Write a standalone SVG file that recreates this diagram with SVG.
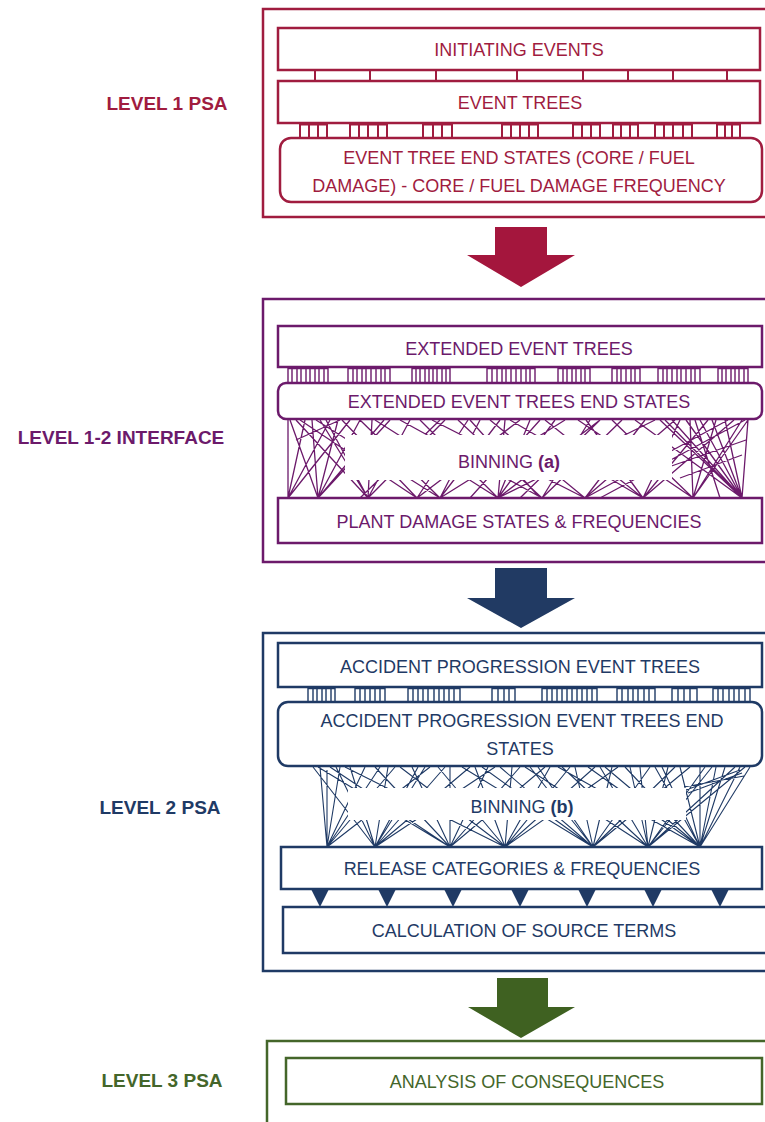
<svg xmlns="http://www.w3.org/2000/svg" width="765" height="1122" viewBox="0 0 765 1122">
<style>
text{font-family:"Liberation Sans",Arial,sans-serif;font-size:18px;text-anchor:middle}
.lbl{font-weight:bold;font-size:19px}
.r{fill:#A01C3F}.p{fill:#6C1A6B}.n{fill:#1F3A65}.g{fill:#44662A}
.box{fill:#fff;stroke-width:2.5}
.outer{fill:none;stroke-width:2.5}
.sr{stroke:#A01C3F}.sp{stroke:#6C1A6B}.sn{stroke:#1F3A65}.sg{stroke:#44662A}
.tk{fill:none;stroke-width:2}
.tk2{fill:none;stroke-width:1.4}
.bin{stroke-width:1.3;fill:none}
.bin2{stroke-width:1.1;fill:none}
</style>
<rect width="765" height="1122" fill="#fff"/>

<!-- Level labels -->
<g id="label-level1"><text class="lbl r" x="167" y="110">LEVEL 1 PSA</text></g>
<g id="label-level12"><text class="lbl p" x="121" y="444">LEVEL 1-2 INTERFACE</text></g>
<g id="label-level2"><text class="lbl n" x="160" y="814">LEVEL 2 PSA</text></g>
<g id="label-level3"><text class="lbl g" x="162" y="1087">LEVEL 3 PSA</text></g>

<!-- Outer frames -->
<g id="frame-level1"><rect class="outer sr" x="263" y="9" width="510" height="208"/></g>
<g id="frame-level12"><rect class="outer sp" x="263" y="299" width="510" height="263"/></g>
<g id="frame-level2"><rect class="outer sn" x="263" y="633" width="510" height="338"/></g>
<g id="frame-level3"><rect class="outer sg" x="267" y="1041" width="510" height="100"/></g>

<!-- Connectors -->
<g id="connectors">
  <!-- Level 1 ticks -->
  <path class="tk sr" d="M315 70V81M370 70V81M436 70V81M517 70V81M583 70V81M628 70V81M673 70V81M727 70V81"/>
  <path class="tk sr" d="M300 124.5H327M300 123V138M309 123V138M318 123V138M327 123V138
  M350 124.5H387M350 123V138M359 123V138M368 123V138M378 123V138M387 123V138
  M423 124.5H452M423 123V138M433 123V138M442 123V138M452 123V138
  M502 124.5H538M502 123V138M511 123V138M520 123V138M529 123V138M538 123V138
  M573 124.5H600M573 123V138M582 123V138M591 123V138M600 123V138
  M613 124.5H638M613 123V138M621 123V138M630 123V138M638 123V138
  M655 124.5H692M655 123V138M664 123V138M673 123V138M683 123V138M692 123V138
  M717 124.5H740M717 123V138M725 123V138M732 123V138M740 123V138"/>

  <!-- Level 1-2 ticks -->
  <path class="tk2 sp" d="M288 368.5H328M348 368.5H390M412 368.5H450M487 368.5H535M558 368.5H590M612 368.5H640M658 368.5H700M718 368.5H748
  M288 367V383M292 367V383M297 367V383M301 367V383M306 367V383M310 367V383M315 367V383M319 367V383M324 367V383M328 367V383
  M348 367V383M353 367V383M357 367V383M362 367V383M366 367V383M371 367V383M376 367V383M381 367V383M385 367V383M390 367V383
  M412 367V383M416 367V383M420 367V383M425 367V383M429 367V383M433 367V383M437 367V383M442 367V383M446 367V383M450 367V383
  M487 367V383M492 367V383M497 367V383M502 367V383M506 367V383M511 367V383M516 367V383M521 367V383M526 367V383M530 367V383M535 367V383
  M558 367V383M563 367V383M567 367V383M572 367V383M576 367V383M581 367V383M585 367V383M590 367V383
  M612 367V383M617 367V383M621 367V383M626 367V383M631 367V383M635 367V383M640 367V383
  M658 367V383M663 367V383M667 367V383M672 367V383M677 367V383M681 367V383M686 367V383M691 367V383M695 367V383M700 367V383
  M718 367V383M722 367V383M726 367V383M731 367V383M735 367V383M739 367V383M744 367V383M748 367V383"/>

  <!-- Binning (a) lines -->
  <path class="bin sp" d="M288 420L288 498M290 420L318 498M296 420L368 498M305 420L288 498M312 420L318 498M320 420L368 498M330 420L288 498M338 420L318 498M350 420L288 498M360 420L318 498M372 420L368 498M384 420L318 498M300 420L417 498M316 420L440 498M342 420L417 498M326 420L368 498M296 440L340 420
  M360 420L440 498M375 420L498 498M390 420L318 498M400 420L542 498M410 420L368 498M420 420L498 498M432 420L585 498M445 420L368 498M458 420L542 498M468 420L417 498M480 420L440 498M490 420L585 498M500 420L440 498M510 420L643 498M520 420L417 498M530 420L498 498M545 420L643 498M555 420L498 498M565 420L440 498M578 420L693 498M590 420L542 498M600 420L498 498M612 420L693 498M622 420L542 498M635 420L742 498M645 420L585 498M655 420L498 498M665 420L742 498M675 420L585 498M440 420L360 498M470 420L540 498M540 420L470 498M600 420L520 498M586 420L643 498M505 420L498 498
  M672 420L742 498M680 420L643 498M690 420L693 498M700 420L742 498M708 420L643 498M716 420L693 498M725 420L742 498M734 420L643 498M742 420L693 498M748 420L742 498M746 440L660 470M660 420L742 498M745 420L600 498M695 420L720 498M748 420L693 498M686 420L742 498M728 420L585 498M712 420L742 498M742 455L680 478"/>
  <rect x="345" y="435" width="327" height="45" fill="#fff"/>

  <!-- Level 2 ticks -->
  <path class="tk2 sn" d="M308 688.5H335M355 688.5H385M408 688.5H460M492 688.5H515M542 688.5H597M617 688.5H655M672 688.5H697M713 688.5H750
  M308 687V702M313 687V702M317 687V702M322 687V702M326 687V702M331 687V702M335 687V702
  M355 687V702M360 687V702M365 687V702M370 687V702M375 687V702M380 687V702M385 687V702
  M408 687V702M413 687V702M418 687V702M423 687V702M428 687V702M434 687V702M439 687V702M444 687V702M449 687V702M454 687V702M460 687V702
  M492 687V702M498 687V702M504 687V702M509 687V702M515 687V702
  M542 687V702M547 687V702M552 687V702M557 687V702M562 687V702M567 687V702M572 687V702M577 687V702M582 687V702M587 687V702M592 687V702M597 687V702
  M617 687V702M622 687V702M628 687V702M633 687V702M638 687V702M644 687V702M649 687V702M655 687V702
  M672 687V702M678 687V702M684 687V702M690 687V702M697 687V702
  M713 687V702M718 687V702M723 687V702M729 687V702M734 687V702M739 687V702M745 687V702M750 687V702"/>

  <!-- Binning (b) lines -->
  <path class="bin2 sn" d="M327 770L327 847M313 767L375 847M320 767L327 847M330 767L450 847M340 767L327 847M350 767L375 847M365 767L327 847M318 767L450 847M345 767L505 847M336 767L375 847
  M375 767L450 847M388 767L375 847M400 767L505 847M412 767L450 847M425 767L375 847M438 767L505 847M450 767L450 847M462 767L593 847M475 767L505 847M488 767L450 847M500 767L593 847M512 767L505 847M525 767L648 847M538 767L593 847M550 767L505 847M562 767L648 847M575 767L593 847M588 767L700 847M600 767L648 847M612 767L593 847M625 767L700 847M640 767L648 847M655 767L700 847M668 767L648 847M680 767L700 847
  M380 767L327 847M395 767L327 847M418 767L375 847M430 767L327 847M445 767L375 847M470 767L375 847M482 767L593 847M495 767L375 847M520 767L450 847M530 767L593 847M545 767L450 847M558 767L700 847M570 767L505 847M595 767L505 847M605 767L700 847M618 767L505 847M630 767L648 847M650 767L593 847M662 767L700 847M675 767L593 847
  M690 767L593 847M700 767L700 847M712 767L648 847M725 767L700 847M740 767L700 847M750 767L700 847M705 767L648 847M735 767L648 847M716 767L700 847M745 767L648 847
  M686 790L740 770M688 793L742 773M684 787L744 776"/>
  <rect x="348" y="788" width="338" height="32" fill="#fff"/>

  <!-- Level 2 triangles -->
  <path class="n" d="M311 889H329L320 907ZM378 889H396L387 907ZM444 889H462L453 907ZM511 889H529L520 907ZM578 889H596L587 907ZM644 889H662L653 907ZM711 889H729L720 907Z"/>

  <!-- Level arrows -->
  <path fill="#A4163D" d="M495 227H547V255H575L521 287L467 255H495Z"/>
  <path fill="#213A63" d="M495 568H547V598H575L521 628L467 598H495Z"/>
  <path fill="#3F6121" d="M497 978H548V1007H575L521 1038L468 1007H497Z"/>
</g>

<!-- Level 1 nodes -->
<g id="initiating-events">
  <rect class="box sr" x="278" y="28" width="482" height="42"/>
  <text class="r" x="519" y="56">INITIATING EVENTS</text>
</g>
<g id="event-trees">
  <rect class="box sr" x="278" y="81" width="482" height="42"/>
  <text class="r" x="520" y="109">EVENT TREES</text>
</g>
<g id="event-tree-end-states">
  <rect class="box sr" x="280" y="138" width="482" height="64" rx="11"/>
  <text class="r" x="519" y="164">EVENT TREE END STATES (CORE / FUEL</text>
  <text class="r" x="519" y="192">DAMAGE) - CORE / FUEL DAMAGE FREQUENCY</text>
</g>

<!-- Level 1-2 nodes -->
<g id="extended-event-trees">
  <rect class="box sp" x="278" y="326" width="484" height="41"/>
  <text class="p" x="519" y="355">EXTENDED EVENT TREES</text>
</g>
<g id="extended-end-states">
  <rect class="box sp" x="278" y="383" width="484" height="36" rx="8"/>
  <text class="p" x="519" y="408">EXTENDED EVENT TREES END STATES</text>
</g>
<g id="binning-a">
  <text class="p" x="509" y="468">BINNING <tspan font-weight="bold">(a)</tspan></text>
</g>
<g id="plant-damage-states">
  <rect class="box sp" x="278" y="498" width="484" height="45"/>
  <text class="p" x="519" y="528">PLANT DAMAGE STATES &amp; FREQUENCIES</text>
</g>

<!-- Level 2 nodes -->
<g id="apet">
  <rect class="box sn" x="278" y="643" width="484" height="44"/>
  <text class="n" x="520" y="673">ACCIDENT PROGRESSION EVENT TREES</text>
</g>
<g id="apet-end-states">
  <rect class="box sn" x="278" y="702" width="484" height="64" rx="10"/>
  <text class="n" x="522" y="727">ACCIDENT PROGRESSION EVENT TREES END</text>
  <text class="n" x="520" y="755">STATES</text>
</g>
<g id="binning-b">
  <text class="n" x="522" y="813">BINNING <tspan font-weight="bold">(b)</tspan></text>
</g>
<g id="release-categories">
  <rect class="box sn" x="281" y="847" width="481" height="42"/>
  <text class="n" x="522" y="875">RELEASE CATEGORIES &amp; FREQUENCIES</text>
</g>
<g id="source-terms">
  <rect class="box sn" x="283" y="907" width="490" height="46"/>
  <text class="n" x="524" y="937">CALCULATION OF SOURCE TERMS</text>
</g>

<!-- Level 3 node -->
<g id="consequences">
  <rect class="box sg" x="286" y="1058" width="476" height="46"/>
  <text class="g" x="527" y="1088">ANALYSIS OF CONSEQUENCES</text>
</g>
</svg>
